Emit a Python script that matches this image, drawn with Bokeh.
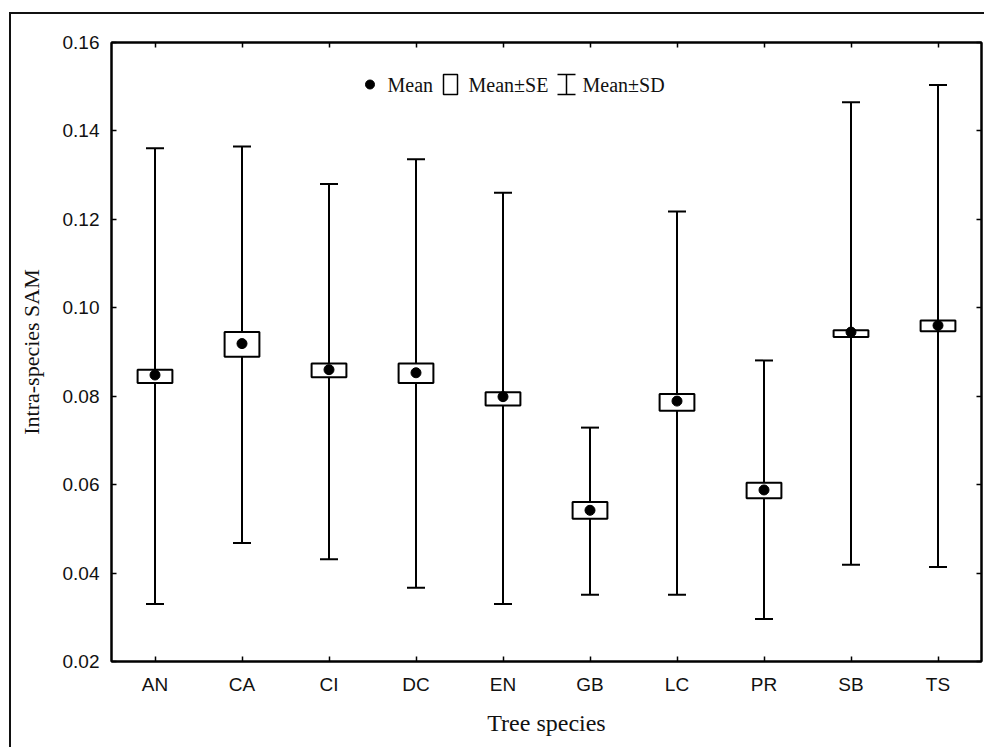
from bokeh.plotting import figure
from bokeh.models import (ColumnDataSource, FactorRange, Range1d, FixedTicker, LinearAxis,
                          CategoricalAxis, Whisker, TeeHead, Label, BoxAnnotation, Arrow,
                          NumeralTickFormatter)
from bokeh.embed import file_html
from bokeh.resources import INLINE

# ---------------- data ----------------
species = ["AN", "CA", "CI", "DC", "EN", "GB", "LC", "PR", "SB", "TS"]
mean    = [0.0848, 0.0919, 0.0860, 0.0853, 0.0799, 0.0542, 0.0789, 0.0588, 0.0945, 0.0960]
se_low  = [0.0830, 0.0889, 0.0843, 0.0830, 0.0779, 0.0523, 0.0767, 0.0569, 0.0934, 0.0947]
se_high = [0.0860, 0.0945, 0.0874, 0.0874, 0.0809, 0.0561, 0.0805, 0.0604, 0.0949, 0.0971]
sd_low  = [0.0330, 0.0468, 0.0431, 0.0367, 0.0330, 0.0351, 0.0351, 0.0296, 0.0419, 0.0414]
sd_high = [0.1361, 0.1365, 0.1280, 0.1336, 0.1260, 0.0729, 0.1218, 0.0881, 0.1465, 0.1504]
y_ticks = [0.02, 0.04, 0.06, 0.08, 0.10, 0.12, 0.14, 0.16]

x_title = "Tree species"
y_title = "Intra-species SAM"
legend_labels = ["Mean", "Mean\u00b1SE", "Mean\u00b1SD"]

SANS = "Liberation Sans"
SERIF = "Liberation Serif"

src = ColumnDataSource(dict(species=species, mean=mean, se_low=se_low, se_high=se_high,
                            sd_low=sd_low, sd_high=sd_high))

p = figure(x_range=FactorRange(*species, range_padding=0),
           y_range=Range1d(y_ticks[0], y_ticks[-1]),
           frame_width=870, frame_height=619,
           min_border_left=100, min_border_right=3, min_border_top=28, min_border_bottom=86,
           output_backend="svg", toolbar_location=None,
           background_fill_color="white", border_fill_color="white")
p.grid.visible = False
p.outline_line_color = "black"
p.outline_line_width = 2

def style_axis(ax, labels=True):
    ax.axis_line_color = "black"
    ax.axis_line_width = 2
    ax.major_tick_in = 5
    ax.major_tick_out = 0
    ax.minor_tick_line_color = None
    ax.major_tick_line_color = "black"
    ax.major_tick_line_width = 1.5
    if labels:
        ax.major_label_text_font = SANS
        ax.major_label_text_font_size = "19px"
        ax.major_label_text_color = "#111111"
    else:
        # tick marks only: labels are not painted at all
        ax.major_label_text_font_size = "1px"
        ax.major_label_text_color = None
        ax.major_label_standoff = 0

# bottom axis
xa = p.xaxis[0]
style_axis(xa)
xa.major_label_standoff = 12
xa.axis_label = x_title
xa.axis_label_text_font = SERIF
xa.axis_label_text_font_style = "normal"
xa.axis_label_text_font_size = "24px"
xa.axis_label_standoff = 12
xa.axis_label_text_color = "#111111"

# left axis
ya = p.yaxis[0]
style_axis(ya)
ya.ticker = FixedTicker(ticks=y_ticks)
ya.formatter = NumeralTickFormatter(format="0.00")
ya.major_label_standoff = 12
ya.axis_label = y_title
ya.axis_label_text_font = SERIF
ya.axis_label_text_font_style = "normal"
ya.axis_label_text_font_size = "22px"
ya.axis_label_standoff = 16
ya.axis_label_text_color = "#111111"

# top and right axes: ticks only
top = CategoricalAxis()
style_axis(top, labels=False)
p.add_layout(top, "above")
right = LinearAxis(ticker=FixedTicker(ticks=y_ticks))
style_axis(right, labels=False)
p.add_layout(right, "right")

# SD whiskers
wh = Whisker(source=src, base="species", upper="sd_high", lower="sd_low", dimension="height",
             line_color="black", line_width=2, level="underlay",
             upper_head=TeeHead(size=18, line_color="black", line_width=2),
             lower_head=TeeHead(size=18, line_color="black", line_width=2))
p.add_layout(wh)

# SE boxes
p.vbar(x="species", top="se_high", bottom="se_low", width=0.40, source=src,
       fill_color="white", line_color="black", line_width=2)

# means
p.scatter(x="species", y="mean", source=src, size=10, marker="circle",
          fill_color="black", line_color="black")

# ---------------- legend (screen units relative to the frame) ----------------
leg_y = 577
p.add_layout(BoxAnnotation(left=254, right=263, bottom=leg_y - 4.5, top=leg_y + 4.5,
                           left_units="screen", right_units="screen",
                           top_units="screen", bottom_units="screen",
                           fill_color="black", fill_alpha=1, line_color="black",
                           line_alpha=1, border_radius=5))
p.add_layout(Label(x=276, y=leg_y, x_units="screen", y_units="screen", text=legend_labels[0],
                   text_font=SERIF, text_font_size="20px", text_baseline="middle",
                   text_align="left", text_color="#111111"))
p.add_layout(BoxAnnotation(left=332, right=346, bottom=leg_y - 10, top=leg_y + 10,
                           left_units="screen", right_units="screen",
                           top_units="screen", bottom_units="screen",
                           fill_color="white", fill_alpha=1, line_color="black",
                           line_alpha=1, line_width=1.5))
p.add_layout(Label(x=357, y=leg_y, x_units="screen", y_units="screen", text=legend_labels[1],
                   text_font=SERIF, text_font_size="20px", text_baseline="middle",
                   text_align="left", text_color="#111111"))
for (xs, ys, xe, ye) in [(455, leg_y - 10, 455, leg_y + 10),
                         (446, leg_y + 10, 464, leg_y + 10),
                         (446, leg_y - 10, 464, leg_y - 10)]:
    p.add_layout(Arrow(x_start=xs, y_start=ys, x_end=xe, y_end=ye, start=None, end=None,
                       start_units="screen", end_units="screen",
                       line_color="black", line_width=1.5))
p.add_layout(Label(x=471, y=leg_y, x_units="screen", y_units="screen", text=legend_labels[2],
                   text_font=SERIF, text_font_size="20px", text_baseline="middle",
                   text_align="left", text_color="#111111"))

# outer frame of the picture
p.margin = (12, 0, 0, 9)
p.styles = {"border-left": "2px solid #111", "border-top": "2px solid #111"}

open("out.html", "w").write(file_html(p, INLINE))
